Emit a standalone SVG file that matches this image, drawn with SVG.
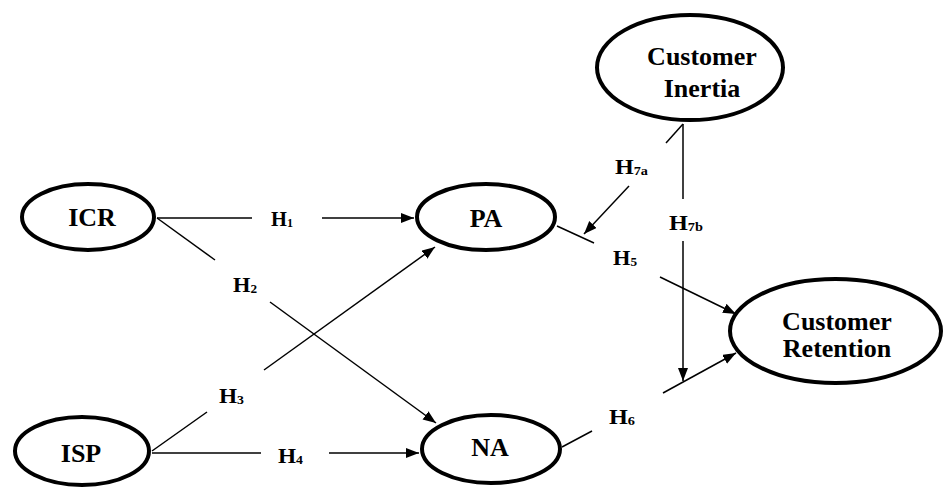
<svg xmlns="http://www.w3.org/2000/svg" width="944" height="488" viewBox="0 0 944 488">
<style>
.node ellipse{fill:#fff;stroke:#000;stroke-width:4}
.node text{font-weight:bold;font-size:26px;fill:#000;text-anchor:middle}
.conn line{stroke:#000;stroke-width:1.5;fill:none}
.lbl{font-weight:bold;font-size:22px;fill:#000}
.lbl tspan{font-size:13px}
</style>
<defs>
<marker id="arr" markerUnits="userSpaceOnUse" markerWidth="14" markerHeight="12" refX="13" refY="5" orient="auto">
<path d="M0,0 L13,5 L0,10 Z" fill="#000"/>
</marker>
</defs>
<rect width="944" height="488" fill="#fff"/>
<g id="connectors" class="conn">
<line x1="157" y1="218" x2="252" y2="218"/>
<line x1="322" y1="218" x2="414" y2="218" marker-end="url(#arr)"/>
<line x1="157" y1="218" x2="215" y2="260"/>
<line x1="270" y1="302" x2="436" y2="423" marker-end="url(#arr)"/>
<line x1="152" y1="451" x2="207" y2="412"/>
<line x1="264" y1="370" x2="435" y2="247" marker-end="url(#arr)"/>
<line x1="152" y1="453" x2="261" y2="453"/>
<line x1="329" y1="453" x2="419" y2="453" marker-end="url(#arr)"/>
<line x1="557" y1="226" x2="594" y2="243"/>
<line x1="660" y1="277" x2="736" y2="314" marker-end="url(#arr)"/>
<line x1="562" y1="447" x2="592" y2="431"/>
<line x1="663" y1="393" x2="736" y2="353" marker-end="url(#arr)"/>
<line x1="683" y1="124" x2="666" y2="143"/>
<line x1="629" y1="186" x2="584" y2="234" marker-end="url(#arr)"/>
<line x1="683" y1="124" x2="683" y2="199"/>
<line x1="683" y1="241" x2="683" y2="381" marker-end="url(#arr)"/>
</g>
<g id="labels" font-family="'Liberation Serif', 'Times New Roman', 'DejaVu Serif', serif">
<text class="lbl" x="271" y="226" textLength="22" lengthAdjust="spacingAndGlyphs">H<tspan dy="1">1</tspan></text>
<text class="lbl" x="233" y="292" textLength="24" lengthAdjust="spacingAndGlyphs">H<tspan dy="1">2</tspan></text>
<text class="lbl" x="219" y="403" textLength="25" lengthAdjust="spacingAndGlyphs">H<tspan dy="1">3</tspan></text>
<text class="lbl" x="278" y="463" textLength="25" lengthAdjust="spacingAndGlyphs">H<tspan dy="1">4</tspan></text>
<text class="lbl" x="613" y="265" textLength="24" lengthAdjust="spacingAndGlyphs">H<tspan dy="1">5</tspan></text>
<text class="lbl" x="609" y="424" textLength="26" lengthAdjust="spacingAndGlyphs">H<tspan dy="1">6</tspan></text>
<text class="lbl" x="615" y="174" textLength="33" lengthAdjust="spacingAndGlyphs">H<tspan dy="1">7a</tspan></text>
<text class="lbl" x="669" y="230" textLength="34" lengthAdjust="spacingAndGlyphs">H<tspan dy="1">7b</tspan></text>
</g>
<g id="nodes" font-family="'Liberation Serif', 'Times New Roman', 'DejaVu Serif', serif">
<g id="ICR" class="node"><ellipse cx="88" cy="217" rx="66" ry="33"/><text x="92" y="226">ICR</text></g>
<g id="PA" class="node"><ellipse cx="486" cy="217" rx="69" ry="33"/><text x="486" y="227">PA</text></g>
<g id="ISP" class="node"><ellipse cx="82" cy="451" rx="67" ry="34"/><text x="81" y="462">ISP</text></g>
<g id="NA" class="node"><ellipse cx="491" cy="449" rx="69" ry="34"/><text x="490" y="456">NA</text></g>
<g id="CustomerInertia" class="node"><ellipse cx="690" cy="67.5" rx="93" ry="52.5"/><text x="702" y="65">Customer</text><text x="702" y="97">Inertia</text></g>
<g id="CustomerRetention" class="node"><ellipse cx="835.5" cy="331" rx="105.5" ry="52"/><text x="837" y="330">Customer</text><text x="837" y="357">Retention</text></g>
</g>
</svg>
